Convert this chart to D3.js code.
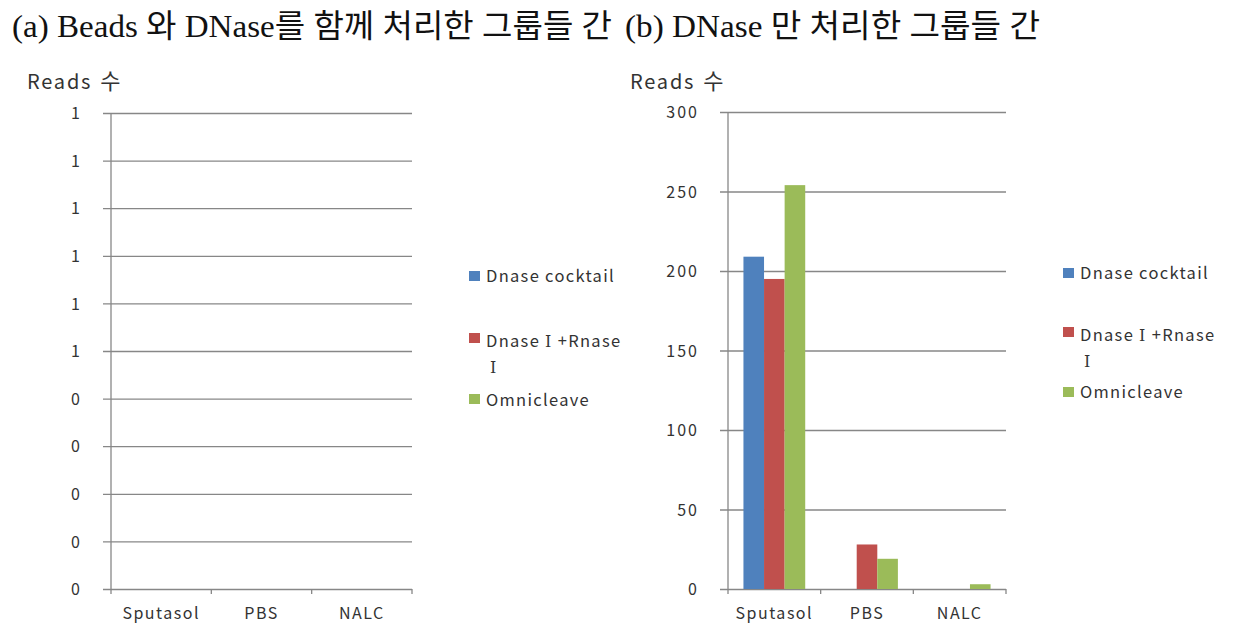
<!DOCTYPE html>
<html><head><meta charset="utf-8">
<script src="https://cdn.jsdelivr.net/npm/d3@7"></script>
<style>
html,body{margin:0;padding:0;background:#fff;}
svg{display:block;}
</style></head>
<body>
<svg id="chart" width="1242" height="637"></svg>
<script>
// ---- data ----
const titles = ["(a) Beads 와 DNase를 함께 처리한 그룹들 간", "(b) DNase 만 처리한 그룹들 간"];
const yAxisTitle = "Reads 수";
const categories = ["Sputasol", "PBS", "NALC"];
const seriesNames = ["Dnase cocktail", "Dnase Ⅰ +Rnase Ⅰ", "Omnicleave"];
const seriesColors = ["#4F81BD", "#C0504D", "#9BBB59"];
// panel (a): no reads
const panelA_cocktail = [0, 0, 0];
const panelA_dnaseRnase = [0, 0, 0];
const panelA_omnicleave = [0, 0, 0];
const panelA_ticks = [0, 0.1, 0.2, 0.3, 0.4, 0.5, 0.6, 0.7, 0.8, 0.9, 1.0];
// panel (b)
const panelB_cocktail = [209, 0, 0];
const panelB_dnaseRnase = [195, 28, 0];
const panelB_omnicleave = [254, 19, 3];
const panelB_ticks = [0, 50, 100, 150, 200, 250, 300];

const svg = d3.select("#chart");
const FONT = "'Noto Sans CJK KR', 'Open Sans', sans-serif";
const GRID = "#878787";
const TXT = "#333";

// titles
const titleLayout = [{x: 12, w: 600}, {x: 625, w: 415}];
titles.forEach((t, i) => {
  svg.append("text")
    .attr("x", titleLayout[i].x).attr("y", 37)
    .attr("font-family", "'Liberation Serif', 'Noto Sans CJK KR', serif")
    .attr("font-size", 32)
    .attr("textLength", titleLayout[i].w)
    .attr("lengthAdjust", "spacingAndGlyphs")
    .attr("fill", "#111")
    .text(t);
});

function addLabel(sel, str) {
  // render roman numeral glyphs with a serif face, like the original
  str.split(/(Ⅰ)/).filter(s => s.length).forEach(part => {
    const ts = sel.append("tspan").text(part);
    if (part === "Ⅰ") ts.attr("font-family", "'DejaVu Serif', 'Liberation Serif', serif").attr("font-size", 16);
  });
}

function drawPanel(cfg) {
  const g = svg.append("g");
  const series = cfg.series;
  const y = d3.scaleLinear().domain(cfg.domain).range([cfg.bottom, cfg.top]);
  const x = d3.scaleBand().domain(categories).range([cfg.left, cfg.right]).paddingInner(0).paddingOuter(0);

  // gridlines via axis
  const yAxis = d3.axisLeft(y).tickValues(cfg.ticks).tickSize(-(cfg.right - cfg.left) - 8).tickFormat("");
  const ya = g.append("g").attr("transform", `translate(${cfg.right},0)`).call(yAxis);
  ya.select(".domain").remove();
  ya.selectAll(".tick line").attr("stroke", GRID).attr("stroke-width", 1.3)
    .attr("x1", 0).attr("x2", -(cfg.right - cfg.left) - 8);
  ya.selectAll(".tick text").remove();
  // labels
  const yl = d3.axisLeft(y).tickValues(cfg.ticks).tickFormat(cfg.fmt).tickSize(0).tickPadding(0);
  const yla = g.append("g").attr("transform", `translate(${cfg.labelX},0)`).call(yl);
  yla.select(".domain").remove();
  yla.selectAll("text").attr("font-family", FONT).attr("font-size", 16)
    .attr("letter-spacing", "2px").attr("fill", TXT).attr("dy", "0.35em");

  // vertical axis line
  g.append("line").attr("x1", cfg.left).attr("x2", cfg.left)
    .attr("y1", cfg.top).attr("y2", cfg.bottom).attr("stroke", GRID).attr("stroke-width", 1.3);

  // x axis
  const xa = d3.axisBottom(x).tickSize(0).tickPadding(19);
  const xg = g.append("g").attr("transform", `translate(0,${cfg.bottom})`).call(xa);
  xg.select(".domain").remove();
  xg.selectAll("text").attr("font-family", FONT).attr("font-size", 16)
    .attr("letter-spacing", "1.5px").attr("fill", TXT);
  // category boundary ticks
  const bounds = categories.map(c => x(c)).concat([cfg.right]);
  g.selectAll(".bt").data(bounds).enter().append("line")
    .attr("x1", d => d).attr("x2", d => d)
    .attr("y1", cfg.bottom).attr("y2", cfg.bottom + 5)
    .attr("stroke", GRID).attr("stroke-width", 1.3);

  // bars (Excel-like gap width 150%)
  const bw = x.bandwidth() / (series.length + 1.5);
  series.forEach((vals, si) => {
    g.selectAll(".bar" + si).data(vals.map((v, ci) => ({v, c: categories[ci]})))
      .enter().append("rect")
      .attr("x", d => x(d.c) + bw * 0.75 + si * bw)
      .attr("width", bw)
      .attr("y", d => y(d.v))
      .attr("height", d => y(0) - y(d.v))
      .attr("fill", seriesColors[si]);
  });

  // y axis title
  const yt = g.append("text").attr("x", cfg.titleX).attr("y", 89)
    .attr("font-family", FONT).attr("font-size", 20).attr("letter-spacing", "1.8px")
    .attr("fill", TXT);
  const parts = yAxisTitle.split(" ");
  yt.append("tspan").text(parts[0]);
  yt.append("tspan").attr("dx", 8).attr("font-size", 22).text(parts.slice(1).join(" "));

  // legend
  const lg = g.append("g");
  seriesNames.forEach((name, si) => {
    const L = cfg.legend[si];
    lg.append("rect").attr("x", cfg.legendX).attr("y", L.sq).attr("width", 11).attr("height", 10)
      .attr("fill", seriesColors[si]);
    const lines = si === 1 ? [name.slice(0, name.lastIndexOf(" ")), name.slice(name.lastIndexOf(" ") + 1)] : [name];
    lines.forEach((ln, li) => {
      const t = lg.append("text")
        .attr("x", li === 0 ? cfg.legendX + 17 : cfg.legendX + 21)
        .attr("y", li === 0 ? L.base : L.base + 26)
        .attr("font-family", FONT).attr("font-size", 16.5).attr("letter-spacing", "1.3px")
        .attr("fill", TXT);
      addLabel(t, ln);
    });
  });
}

const fmtA = d => (d).toFixed(0);
drawPanel({
  series: [panelA_cocktail, panelA_dnaseRnase, panelA_omnicleave],
  domain: [0, 1], ticks: panelA_ticks, fmt: fmtA,
  left: 111, right: 412, top: 113, bottom: 589,
  labelX: 82, titleX: 27,
  legendX: 469,
  legend: [{sq: 271, base: 282}, {sq: 333, base: 347}, {sq: 394, base: 406}]
});
drawPanel({
  series: [panelB_cocktail, panelB_dnaseRnase, panelB_omnicleave],
  domain: [0, 300], ticks: panelB_ticks, fmt: d3.format("d"),
  left: 728, right: 1006, top: 112, bottom: 589,
  labelX: 699, titleX: 630,
  legendX: 1063,
  legend: [{sq: 268, base: 279}, {sq: 327, base: 341}, {sq: 387, base: 398}]
});
</script>
</body></html>
